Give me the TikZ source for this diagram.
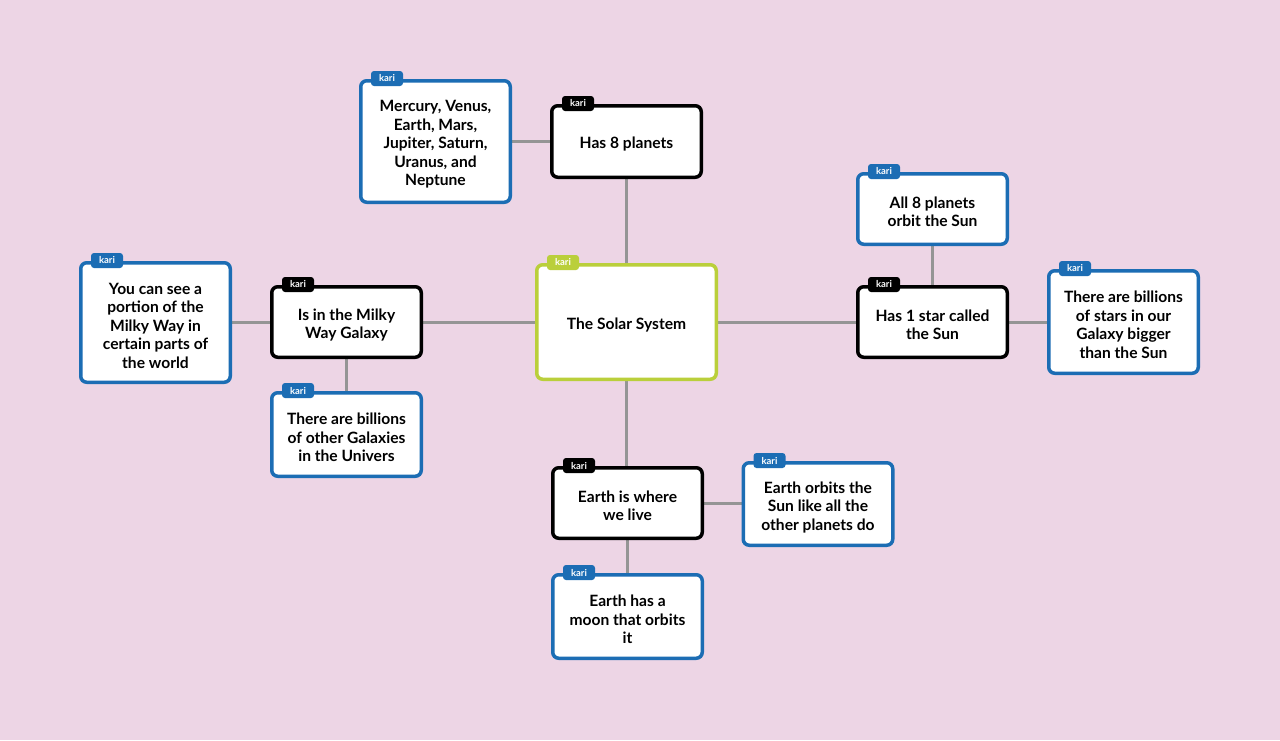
\documentclass[tikz,border=0pt]{standalone}
\usepackage{fontspec}
\setmainfont{Lato}
\usetikzlibrary{backgrounds}
\definecolor{bg}{HTML}{EDD5E5}
\definecolor{kblue}{HTML}{1C6DB4}
\definecolor{kgreen}{HTML}{BACF3B}
\definecolor{kline}{HTML}{959595}
\tikzset{
  card/.style={draw=#1, fill=white, line width=3.5pt, rounded corners=6pt,
    minimum width=149.5pt, inner sep=0pt},
  cardtext/.style={align=center, inner sep=0pt,
    font=\fontsize{15.6}{18.5}\selectfont\bfseries},
  tag/.style={fill=#1, rounded corners=3pt, text=white, minimum width=32pt,
    minimum height=15pt, inner sep=0pt, font=\fontsize{9.5}{10}\selectfont\bfseries},
  link/.style={draw=kline, line width=3pt}
}
% \card{name}{colour}{x}{y}{height}{text}
\newcommand{\card}[6]{%
  \node[card=#2, minimum height=#5pt] (#1) at (#3,#4) {};
  \node[cardtext] (#1-text) at ([yshift=-3pt]#1.center) {#6};}
\newcommand{\karitag}[2]{\node[tag=#2] (#1-tag) at ([xshift=28pt,yshift=0.5pt]#1.north west) {kari};}
\begin{document}
\begin{tikzpicture}[x=1pt,y=-1pt]
\useasboundingbox (0,0) rectangle (1280,740);
% nodes
\node[card=kgreen, minimum width=179.5pt, minimum height=114.5pt] (ss) at (626.5,322) {};
\node[cardtext] (ss-text) at ([yshift=-3pt]ss.center) {The Solar System};
\card{has8}{black}{626.5}{141.5}{71.5}{Has 8 planets}
\card{merc}{kblue}{435.5}{141.5}{121.5}{Mercury, Venus,\\Earth, Mars,\\Jupiter, Saturn,\\Uranus, and\\Neptune}
\card{all8}{kblue}{932.5}{209}{70.5}{All 8 planets\\orbit the Sun}
\card{has1}{black}{932.5}{322}{70.5}{Has 1 star called\\the Sun}
\card{stars}{kblue}{1123.5}{322}{102.5}{There are billions\\of stars in our\\Galaxy bigger\\than the Sun}
\card{milky}{black}{346.5}{322}{70.5}{Is in the Milky\\Way Galaxy}
\card{see}{kblue}{155.5}{322.5}{119.5}{You can see a\\portion of the\\Milky Way in\\certain parts of\\the world}
\card{gal}{kblue}{346.5}{434.5}{83.5}{There are billions\\of other Galaxies\\in the Univers}
\card{earth}{black}{627.5}{503}{70.5}{Earth is where\\we live}
\card{orbits}{kblue}{818}{504}{82.5}{Earth orbits the\\Sun like all the\\other planets do}
\card{moon}{kblue}{627.5}{616.5}{83.5}{Earth has a\\moon that orbits\\it}
% background and connectors (behind the cards)
\begin{scope}[on background layer]
\fill[bg] (0,0) rectangle (1280,740);
\draw[link] (ss.north) -- (has8.south);
\draw[link] (has8.west) -- (merc.east |- has8.west);
\draw[link] (ss.east) -- (has1.west);
\draw[link] (has1.north) -- (all8.south);
\draw[link] (has1.east) -- (stars.west);
\draw[link] (ss.west) -- (milky.east);
\draw[link] (milky.west) -- (see.east |- milky.west);
\draw[link] (milky.south) -- (gal.north);
\draw[link] (ss.south) -- (earth.north -| ss.south);
\draw[link] (earth.east) -- (orbits.west |- earth.east);
\draw[link] (earth.south) -- (moon.north);
\end{scope}
% tags
\karitag{ss}{kgreen}
\karitag{has8}{black}
\karitag{merc}{kblue}
\karitag{all8}{kblue}
\karitag{has1}{black}
\karitag{stars}{kblue}
\karitag{milky}{black}
\karitag{see}{kblue}
\karitag{gal}{kblue}
\karitag{earth}{black}
\karitag{orbits}{kblue}
\karitag{moon}{kblue}
\end{tikzpicture}
\end{document}
